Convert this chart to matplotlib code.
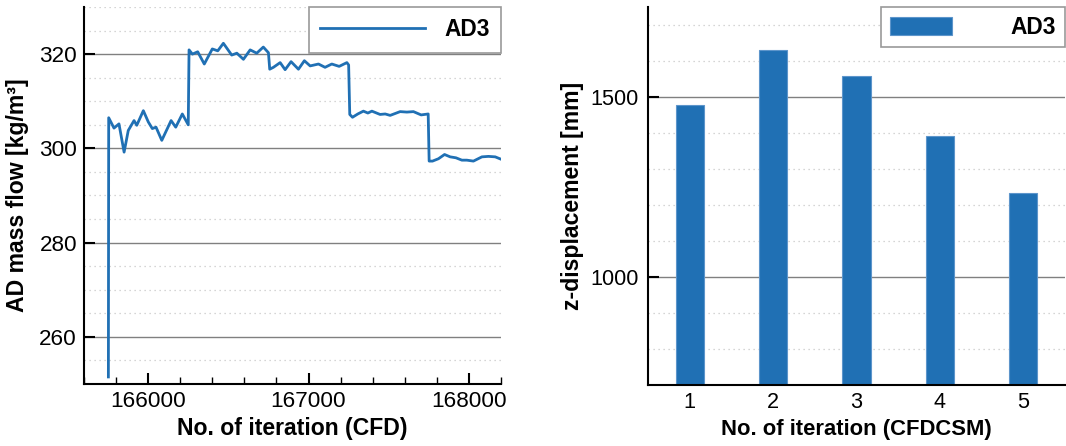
import matplotlib
matplotlib.use('Agg')
import matplotlib.pyplot as plt
from matplotlib.ticker import MultipleLocator
from matplotlib.legend_handler import HandlerPatch
from matplotlib.patches import Rectangle

plt.rcParams['font.family'] = ['Liberation Sans', 'DejaVu Sans']
plt.rcParams['font.size'] = 16

# left panel: AD mass flow over CFD iterations
cfd_iter = [165752, 165754, 165787, 165818, 165850, 165876, 165912, 165929, 165970, 166001,
            166026, 166049, 166085, 166143, 166172, 166213, 166250, 166255, 166276, 166309,
            166350, 166400, 166434, 166469, 166521, 166553, 166594, 166636, 166677, 166718,
            166750, 166758, 166781, 166823, 166854, 166891, 166937, 166974, 167010, 167062,
            167103, 167145, 167191, 167239, 167250, 167257, 167274, 167307, 167342, 167370,
            167395, 167446, 167478, 167509, 167571, 167613, 167654, 167702, 167746, 167752,
            167773, 167810, 167848, 167883, 167919, 167956, 167987, 168028, 168081, 168122,
            168164, 168200]
mass_flow = [251.5, 306.5, 304.3, 305.2, 299.2, 303.8, 305.9, 304.9, 308.0, 305.6,
             304.2, 304.5, 301.7, 305.9, 304.5, 307.3, 305.0, 320.9, 320.0, 320.5,
             317.9, 321.1, 320.7, 322.3, 319.8, 320.2, 318.9, 320.9, 320.2, 321.5,
             320.3, 316.8, 317.2, 318.2, 316.7, 318.4, 316.8, 318.6, 317.5, 317.9,
             317.2, 317.9, 317.4, 318.2, 317.7, 307.2, 306.6, 307.3, 307.9, 307.5,
             307.9, 307.2, 307.3, 307.0, 307.8, 307.7, 307.8, 307.1, 307.3, 297.3,
             297.3, 297.8, 298.7, 298.2, 298.0, 297.5, 297.5, 297.3, 298.2, 298.3,
             298.2, 297.7]

# right panel: z-displacement per coupling iteration
csm_iter = [1, 2, 3, 4, 5]
z_disp = [1478, 1630, 1558, 1392, 1232]

blue = '#2070b4'

fig = plt.figure(figsize=(10.66, 4.46), dpi=100)
ax1 = fig.add_axes([84/1066, 62/446, 417/1066, 377/446])
ax2 = fig.add_axes([648/1066, 61/446, 417/1066, 378/446])

for ax in (ax1, ax2):
    for s in ('top', 'right'):
        ax.spines[s].set_visible(False)
    for s in ('left', 'bottom'):
        ax.spines[s].set_linewidth(1.5)
    ax.tick_params(which='major', direction='in', length=8, width=1.5, pad=5)
    ax.tick_params(which='minor', direction='in', length=5, width=1)
    ax.grid(axis='y', which='major', color='#808080', lw=1, ls='-')
    ax.grid(axis='y', which='minor', color='#c8c8c8', lw=0.9, ls=(0, (1, 3)))
    ax.set_axisbelow(True)

ax1.plot(cfd_iter, mass_flow, color=blue, lw=2.0, label='AD3')
ax1.set_xlim(165600, 168200)
ax1.set_ylim(250, 330)
ax1.xaxis.set_major_locator(MultipleLocator(1000))
ax1.xaxis.set_minor_locator(MultipleLocator(200))
ax1.yaxis.set_major_locator(MultipleLocator(20))
ax1.yaxis.set_minor_locator(MultipleLocator(5))
ax1.tick_params(axis='y', which='minor', length=0)
ax1.tick_params(which='major', labelsize=16.2)
ax1.set_xlabel('No. of iteration (CFD)', fontweight='bold', fontsize=16.6, labelpad=4)
ax1.set_ylabel('AD mass flow [kg/m³]', fontweight='bold', fontsize=16.6, labelpad=7)
leg1 = ax1.legend(loc='upper right', bbox_to_anchor=(1, 1), borderaxespad=0,
                  fancybox=False, edgecolor='#999999', framealpha=1,
                  handlelength=4.6, handletextpad=0.83, borderpad=0.5,
                  prop={'weight': 'bold', 'size': 16.4})
leg1.get_frame().set_linewidth(1.2)

ax2.bar(csm_iter, z_disp, width=0.34, color=blue, edgecolor='#5d95cb', lw=0.8, label='AD3')
ax2.set_xlim(0.5, 5.5)
ax2.set_ylim(700, 1750)
ax2.set_xticks(csm_iter)
ax2.yaxis.set_major_locator(MultipleLocator(500))
ax2.yaxis.set_minor_locator(MultipleLocator(100))
ax2.tick_params(axis='y', which='minor', length=0)
ax2.tick_params(axis='x', which='minor', length=0)
ax2.tick_params(which='major', labelsize=15.6)
ax2.tick_params(axis='y', which='major', pad=7)
ax2.set_xlabel('No. of iteration (CFDCSM)', fontweight='bold', fontsize=15.8, labelpad=4)
ax2.set_ylabel('z-displacement [mm]', fontweight='bold', fontsize=16.6, labelpad=4)


def right_patch(legend, orig_handle, xdescent, ydescent, width, height, fontsize):
    w = 1.05 * fontsize
    return Rectangle((width - xdescent - w, -ydescent), w, height)


leg2 = ax2.legend(loc='upper right', bbox_to_anchor=(1, 1), borderaxespad=0,
                  fancybox=False, edgecolor='#999999', framealpha=1,
                  handlelength=2.72, handleheight=0.83, handletextpad=2.6, borderpad=0.38,
                  handler_map={Rectangle: HandlerPatch(patch_func=right_patch)},
                  prop={'weight': 'bold', 'size': 16.4})
leg2.get_frame().set_linewidth(1.2)

fig.savefig('out.png', dpi=100)
